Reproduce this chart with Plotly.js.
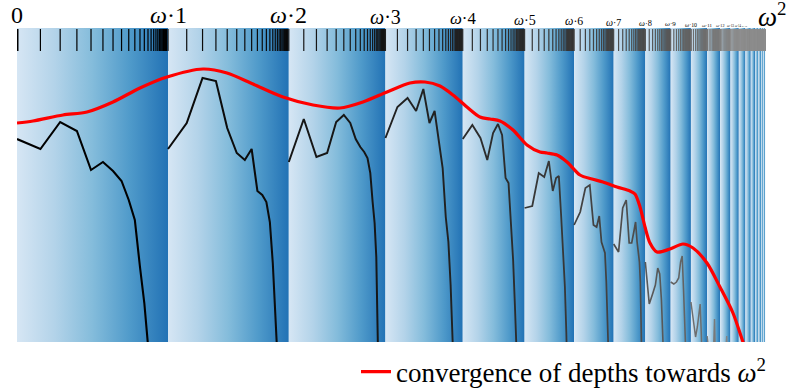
<!DOCTYPE html>
<html><head><meta charset="utf-8">
<script src="https://cdn.plot.ly/plotly-3.0.1.min.js"></script>
<style>html,body{margin:0;padding:0;background:#fff}#chart{width:791px;height:388px}</style>
</head><body><div id="chart"></div>
<script>
// ---------- data ----------
// segments ω·k (k = 0..20), each drawn as a blue gradient block
const segmentIndex = [0,1,2,3,4,5,6,7,8,9,10,11,12,13,14,15,16,17,18,19,20];
// labels above the tick band (at the start of segment k)
const tickLabels = ["0","<i>ω</i>·1","<i>ω</i>·2","<i>ω</i>·3","<i>ω</i>·4","<i>ω</i>·5","<i>ω</i>·6",
  "<i>ω</i>·7","<i>ω</i>·8","<i>ω</i>·9","<i>ω</i>·10","<i>ω</i>·11","<i>ω</i>·12","<i>ω</i>·13",
  "<i>ω</i>·14","<i>ω</i>·15"];
const limitLabel = "<i>ω</i><sup>2</sup>";
// depth values at ordinals ω·k + n (n = 0,1,2,...) for each segment
const depthSeg0  = [203,193,220,211,172,180,171,161,142,122,75,39,-3,-60];
const depthSeg1  = [193,219,264,261,214,189,182,193,151,147,140,120,79,39,-1,-50];
const depthSeg2  = [180,223,185,189,220,227,219,203,195,190,184,169,140,119,85,0,-60];
const depthSeg3  = [204,235,244,231,253,219,231,198,174,125,100,57,13,-40];
const depthSeg4  = [203,217,204,182,209,218,207,164,159,117,82,37,2,-40];
const depthSeg5  = [134,136,169,165,181,151,164,166,125,85,55,10,-40];
const depthSeg6  = [117,130,154,157,117,115,126,100,94,89,60,25,-10];
const depthSeg7  = [98,90,134,142,99,99,110,120,100,90,80,60,25,-20];
const depthSeg8  = [80,38,48,57,74,68,42,12,-30];
const depthSeg9  = [60,58,60,64,80,86,52,30,8,-30];
const depthSeg10 = [40,22,5,15,27,38,10,-20];
const depthSeg11 = [6,-20,-30,-30,-10,23,-15];
const depthSeg12 = [-20,-20,-20,-20,-20,-5,6,-15];
const depthSegments = [depthSeg0,depthSeg1,depthSeg2,depthSeg3,depthSeg4,depthSeg5,depthSeg6,
  depthSeg7,depthSeg8,depthSeg9,depthSeg10,depthSeg11,depthSeg12];
// red convergence curve (x: position on the ordinal scale 0 → ω², y: depth)
const redX = [0,0.0212,0.0609,0.0927,0.1272,0.1629,0.1987,0.2464,0.2781,0.3126,0.3523,0.3921,0.4278,
  0.4583,0.4901,0.5205,0.5404,0.5603,0.5775,0.5960,0.6132,0.6265,0.6397,0.6570,0.6755,0.6927,0.7020,
  0.7152,0.7285,0.7457,0.7616,0.7762,0.7947,0.8119,0.8185,0.8252,0.8318,0.8384,0.8477,0.8649,0.8821,
  0.8954,0.9139,0.9311,0.9483,0.9616,0.9735];
const redY = [219,221,227,230,240,254,265,273,269,258,245,237,234,240,250,259,260,256,247,235,225,223,
  221,212,197,190,189,187,180,167,163,160,155,151,148,135,115,99,90,93,98,94,79,55,29,0,-25];
const legendText = "convergence of depths towards <i>ω</i><sup>2</sup>";

// ---------- ordinal scale ----------
const segRatio = 0.8, innerRatio = 0.845, ticksPerSeg = 28;
const Y_TOP = 314, TICK_LO = 291, TICK_HI = 313;
function segStart(k){ return 1 - Math.pow(segRatio, k); }
function segWidth(k){ return (1 - segRatio) * Math.pow(segRatio, k); }
function ordPos(k, n){ return segStart(k) + segWidth(k) * (1 - Math.pow(innerRatio, n)); }
function grey(k){ const g = Math.min(140, Math.round(11 * k)); return `rgb(${g},${g},${g})`; }

const FONT = '"Liberation Serif", "Times New Roman", serif';
const blues = [[0,'#d6e6f4'],[0.25,'#b3d3e9'],[0.5,'#84bcdb'],[0.75,'#4f9aca'],[1,'#2272b5']];
const traces = [];

// gradient blocks
segmentIndex.forEach(k => {
  const s = segStart(k), e = segStart(k + 1);
  traces.push({type:'scatter', mode:'lines', x:[s,e,e,s,s], y:[0,0,Y_TOP,Y_TOP,0],
    fill:'toself', fillgradient:{type:'horizontal', colorscale:blues},
    line:{width:0}, hoverinfo:'skip', showlegend:false});
});
// tick band
segmentIndex.forEach(k => {
  const xs = [], ys = [];
  for (let n = 0; n < ticksPerSeg; n++) { const p = ordPos(k, n); xs.push(p, p, null); ys.push(TICK_LO, TICK_HI, null); }
  traces.push({type:'scatter', mode:'lines', x:xs, y:ys, line:{color:grey(k), width:1.2},
    hoverinfo:'skip', showlegend:false});
  if (k === 0) traces.push({type:'scatter', mode:'lines', x:[0,0], y:[TICK_LO,TICK_HI],
    line:{color:'#000', width:3}, hoverinfo:'skip', showlegend:false});
});
// depth lines per segment
depthSegments.forEach((vals, k) => {
  traces.push({type:'scatter', mode:'lines', x:vals.map((v, n) => ordPos(k, n)), y:vals,
    line:{color:grey(k), width:Math.max(1.4, 2.1 - 0.06 * k)}, hoverinfo:'skip', showlegend:false});
});
// red curve
traces.push({type:'scatter', mode:'lines', x:redX, y:redY, name:legendText,
  line:{color:'#ff0000', width:3.2, shape:'spline', smoothing:0.8}, showlegend:true});

// labels
const annotations = tickLabels.map((t, k) => ({
  x: segStart(k), xref:'x', y:1, yref:'paper', yanchor:'bottom', xanchor:'center', yshift:-2,
  text:t, showarrow:false, font:{family:FONT, color:'#000', size: k <= 2 ? 24 : 20 * Math.pow(0.84, k - 3)}
}));
annotations.push({x:1, xref:'x', y:1, yref:'paper', yanchor:'bottom', xanchor:'center', yshift:-6, xshift:0,
  text:limitLabel, showarrow:false, font:{family:FONT, color:'#000', size:27}});

const layout = {
  width:791, height:388, margin:{l:17, r:19, t:28, b:46},
  paper_bgcolor:'#fff', plot_bgcolor:'#fff',
  xaxis:{range:[0,1], visible:false, fixedrange:true},
  yaxis:{range:[0,Y_TOP], visible:false, fixedrange:true},
  showlegend:true,
  legend:{x:(356 - 17) / 755, xanchor:'left', xref:'paper', y:(388 - 372) / 388, yref:'container', yanchor:'middle',
    bgcolor:'rgba(0,0,0,0)', font:{family:FONT, size:27, color:'#000'}},
  annotations:annotations, font:{family:FONT}
};
Plotly.newPlot('chart', traces, layout, {staticPlot:true, displayModeBar:false});
</script></body></html>
